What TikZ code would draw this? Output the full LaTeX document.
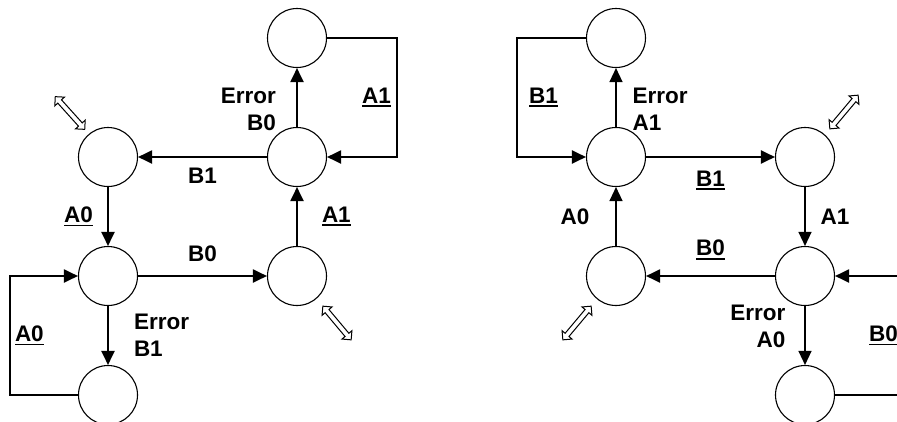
\documentclass[tikz,border=0pt]{standalone}
\usepackage{fontspec}
\setmainfont{Liberation Sans}
\usepackage{tikz}
\usetikzlibrary{arrows.meta,automata,shapes.arrows}

% underlined edge label with a heavy rule
\newcommand{\ulab}[1]{\vtop{\hbox{#1}\kern2pt\hrule height 1.8pt}}

\begin{document}
\begin{tikzpicture}[x=1pt,y=-1pt,->,>={Triangle[length=14pt,width=13pt]},line width=2pt,node distance=119pt,
  every node/.style={inner sep=0pt,font=\bfseries\fontsize{22.5}{27}\selectfont}]
\tikzstyle{every state}=[draw=black,minimum size=59pt,line width=1.1pt]
\tikzstyle{dblarr}=[double arrow,draw,line width=1pt,inner sep=2pt,minimum height=44pt,double arrow head extend=4pt]
\useasboundingbox (0,0) rectangle (897,421);
\clip (0,0) rectangle (897,421);

% left machine
\node[state] (L1) at (108,157) {};
\node[state][below of=L1] (C1) {};
\node[state][below of=C1] (B1) {};
\node[state][right of=C1,node distance=189pt] (R1) {};
\node[state][above of=R1] (M1) {};
\node[state][above of=M1] (T1) {};
\node[dblarr,rotate=-48] (h1) at (70,113) {};
\node[dblarr,rotate=-50] (h2) at (337,323) {};

\path (L1) edge node[left=14pt]{\ulab{A0}} (C1)
      (C1) edge node[above=13pt]{B0} (R1)
           edge node[pos=.5,right=25pt,align=left]{Error\\B1} (B1)
      (R1) edge node[right=24pt]{\ulab{A1}} (M1)
      (M1) edge node[below=10pt]{B1} (L1)
           edge node[pos=.3,left=20pt,align=right]{Error\\B0} (T1);
\draw (T1) -- ++(100,0) |- node[pos=.25,left=5pt]{\ulab{A1}} (M1);
\draw (B1) -- ++(-98,0) |- node[pos=.25,right=4pt]{\ulab{A0}} (C1);

% right machine
\node[state] (M2) at (616,157) {};
\node[state][above of=M2] (T2) {};
\node[state][below of=M2] (L2) {};
\node[state][right of=M2,node distance=189pt] (R2) {};
\node[state][below of=R2] (C2) {};
\node[state][below of=C2] (B2) {};
\node[dblarr,rotate=50] (h3) at (844,112) {};
\node[dblarr,rotate=50] (h4) at (577,323) {};

\path (M2) edge[line width=1.3pt] node[pos=.3,right=16pt,align=left]{Error\\A1} (T2)
           edge node[below=13pt]{\ulab{B1}} (R2)
      (R2) edge[line width=1.3pt] node[right=15pt]{A1} (C2)
      (C2) edge node[above=15pt]{\ulab{B0}} (L2)
           edge[line width=1.3pt] node[pos=.35,left=19pt,align=right]{Error\\A0} (B2)
      (L2) edge[line width=1.3pt] node[left=26pt]{A0} (M2);
\draw (T2) -- ++(-99,0) |- node[pos=.25,right=11pt]{\ulab{B1}} (M2);
\draw (B2) -- ++(99,0) |- node[pos=.25,left=5pt]{\ulab{B0}} (C2);
\end{tikzpicture}
\end{document}
